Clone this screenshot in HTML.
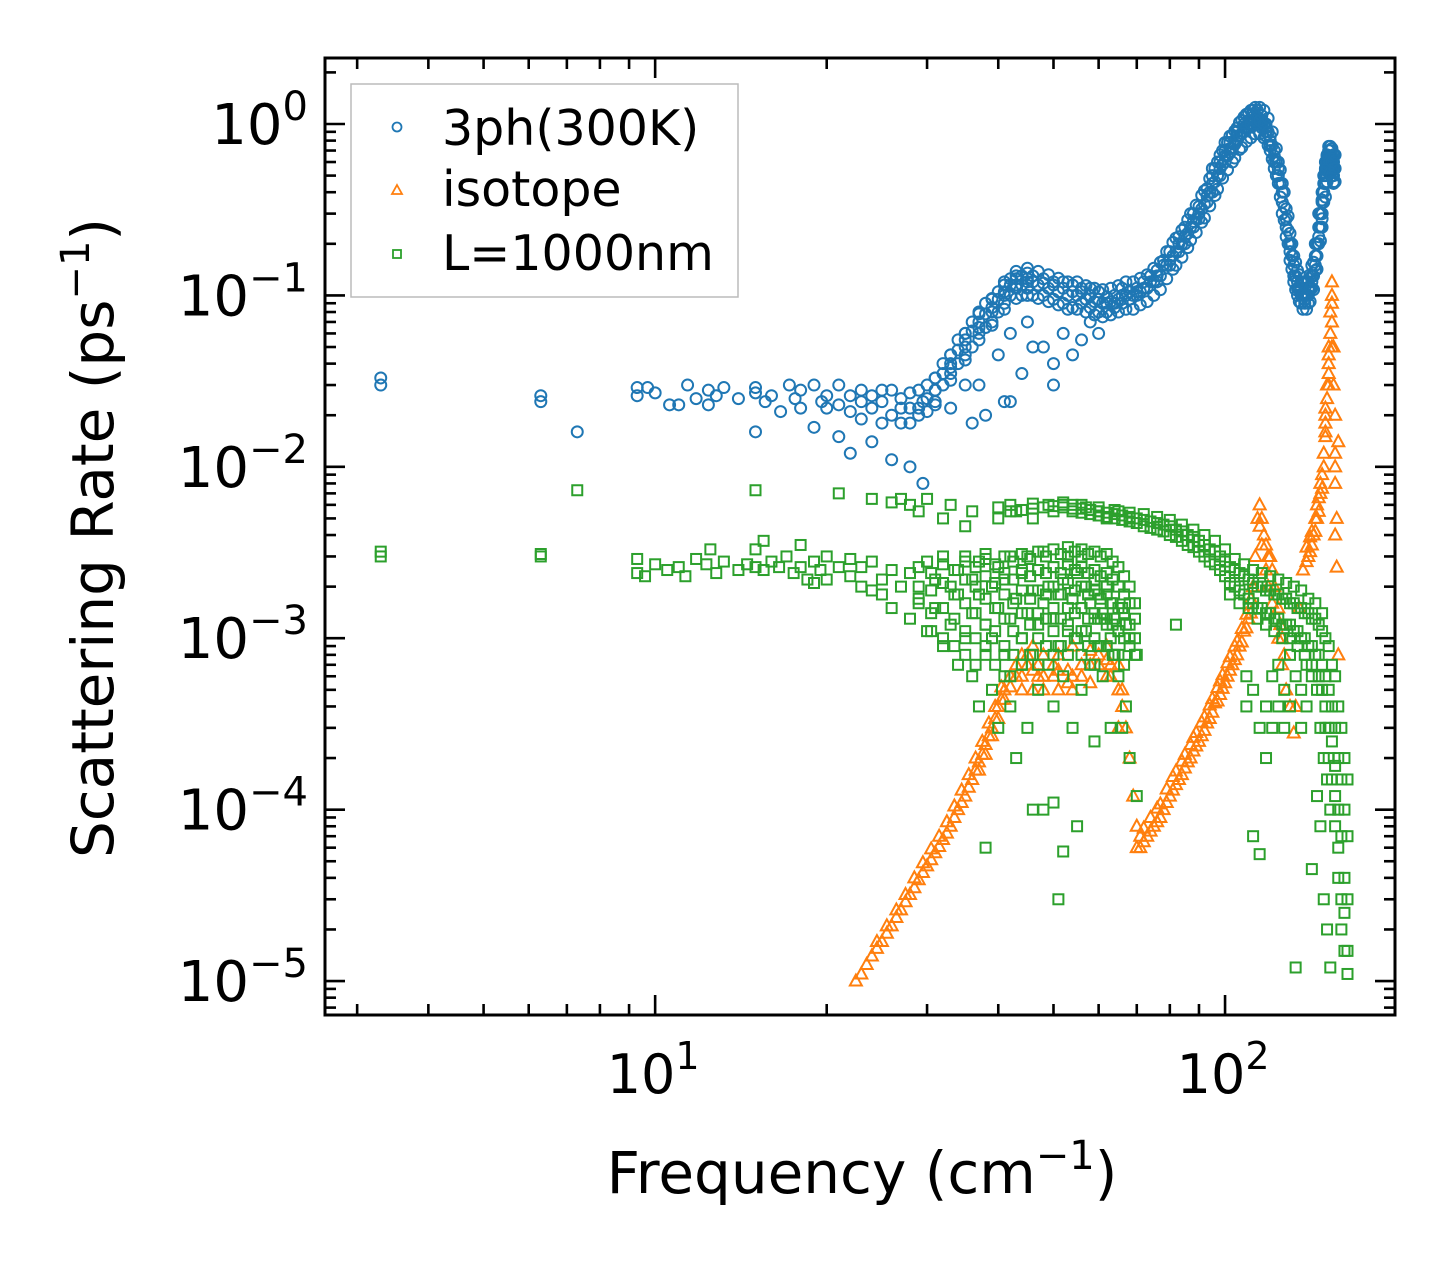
<!DOCTYPE html>
<html><head><meta charset="utf-8"><style>
html,body{margin:0;padding:0;background:#fff}
svg{display:block;font-family:"DejaVu Sans","Liberation Sans",sans-serif}
</style></head><body>
<svg id="chart" width="1455" height="1265" viewBox="0 0 1455 1265" xmlns="http://www.w3.org/2000/svg">
<rect x="0" y="0" width="1455" height="1265" fill="#fff"/>
<g id="marks"></g>
<g id="axes"></g>
<g id="legend">
<rect x="351" y="84" width="387" height="213" fill="#fff" stroke="#bbb" stroke-width="1.5"/>
<circle cx="397" cy="127" r="4.5" fill="none" stroke="#1f77b4" stroke-width="1.8"/>
<text x="442" y="145" font-size="49">3ph(300K)</text>
<path d="M397,185 L402,194 L392,194 Z" fill="none" stroke="#ff7f0e" stroke-width="1.8"/>
<text x="442" y="206" font-size="49">isotope</text>
<rect x="393" y="250" width="8" height="8" fill="none" stroke="#2ca02c" stroke-width="1.8"/>
<text x="442" y="270" font-size="49">L=1000nm</text>
</g>
<text x="862" y="1193" font-size="58" text-anchor="middle">Frequency (cm<tspan dy="-24" font-size="40">−1</tspan><tspan dy="24">)</tspan></text>
<text transform="translate(113,538) rotate(-90)" font-size="58" text-anchor="middle">Scattering Rate (ps<tspan dy="-24" font-size="40">−1</tspan><tspan dy="24">)</tspan></text>
</svg>
<script>
// ---- data ----
const blueFreq=[3.3,6.3,7.3,9.3,9.7,10,10.6,11,11.4,11.8,12.4,12.8,13.2,14,15,15.6,16,16.6,17.2,17.6,18,19,19.6,20,21,22,23,24,25,26,27,28,29,29.5,30,31,32,33,34,35,36,37,38,39,40,41,42,43,44,45,46,48,50,52,54,56,58,60,62,64,66,68,70,72,74,76,78,80,83,85,88,90,93,95,98,100,102,105,108,110,112,114,116,118,120,122,124,126,128,130,132,134,136,138,140,142,144,146,148,149,150,151,152,153,154,155];
const blueRate=[[.033,.030],[.026,.024],[.016],[.029,.026],[.029],[.027],[.023],[.023],[.03],[.025],[.028,.023],[.026],[.029],[.025],[.029,.027,.016],[.024],[.026],[.021],[.03],[.025],[.028,.022],[.017,.03],[.024],[.022,.026],[.03,.015,.023],[.026,.012,.021],[.019,.028,.024],[.022,.014,.026],[.024,.018,.028],[.011,.028,.02],[.018,.025,.022],[.01,.022,.027,.018],[.02,.028,.022],[.008,.024],[.03,.025,.021],[.028,.033,.024],[.035,.04,.03],[.04,.035,.022,.045],[.048,.04,.055],[.055,.03,.045,.06],[.062,.018,.05,.07],[.07,.03,.06,.08],[.078,.02,.065,.09],[.085,.07,.095],[.095,.045,.08,.105],[.105,.09,.115,.024],[.115,.06,.1,.125,.024],[.125,.11,.13],[.13,.035,.115,.1],[.125,.07,.11,.135],[.12,.1,.13,.05],[.118,.05,.1,.125],[.115,.04,.095,.12,.03],[.11,.06,.09,.12],[.105,.045,.085,.115],[.105,.055,.09,.11],[.1,.07,.085,.11],[.095,.06,.08,.105],[.098,.08,.09],[.1,.09,.085],[.1,.09,.11],[.105,.095],[.105,.11,.1],[.11,.12],[.12,.13],[.13,.14,.12],[.15,.16],[.16,.18,.15],[.2,.22,.18],[.22,.25,.2],[.27,.3,.25],[.3,.33,.28],[.38,.42,.35],[.45,.5,.4,.55],[.55,.6,.5,.66],[.65,.7,.6,.78],[.72,.78,.68,.85],[.85,.9,.8,.95],[.95,1.0,.9,1.1],[1.0,1.05,.95,1.15],[1.1,1.15,1.0,1.2],[1.1,1.05,1.0,1.2],[1.05,1.0,.95,1.12],[.95,.9,.85,1.0],[.85,.8,.7,.75],[.7,.65,.6,.55],[.55,.5,.45,.6],[.4,.35,.3,.45],[.28,.25,.22,.32],[.2,.18,.16,.23],[.15,.13,.12,.17],[.12,.11,.1,.14],[.11,.1,.09,.12],[.1,.095,.09,.11],[.1,.11,.09,.12],[.12,.13,.11,.15],[.15,.17,.14,.2],[.2,.25,.22,.3],[.3,.35,.28,.4],[.4,.45,.35,.5],[.5,.55,.45,.6],[.6,.65,.55,.5],[.65,.7,.6,.55],[.6,.65,.55,.7],[.55,.6,.5,.65],[.5,.55,.6,.45]];
const blueBandFreq=[31,33,35,37,39,41,43,45,47,49,51,53,55,57,59,61,63,65,67,69,71,73,75,77,79,81,82,84,86,87,89,91,92,94,96,97,99,101,103,104,106,107,109,111,113,115,117,119,121,123,125,127,129,131,133,135,137,139,141,143,145,147,148,150,151,152,153,154,155,156];
const blueBandRate=[[.023,.028,.033],[.032,.038,.045],[.042,.05,.06],[.055,.065,.078],[.067,.08,.096],[.083,.1,.12],[.096,.115,.138],[.1,.12,.144],[.096,.115,.138],[.092,.11,.132],[.088,.105,.126],[.083,.1,.12],[.083,.1,.12],[.08,.095,.114],[.077,.092,.11],[.075,.09,.108],[.077,.092,.11],[.08,.095,.114],[.083,.1,.12],[.083,.1,.12],[.088,.105,.126],[.092,.11,.132],[.1,.12,.144],[.108,.13,.156],[.125,.15,.18],[.142,.17,.204],[.15,.18,.216],[.167,.2,.24],[.19,.23,.276],[.21,.25,.3],[.233,.28,.336],[.267,.32,.384],[.283,.34,.408],[.333,.4,.48],[.383,.46,.55],[.417,.5,.6],[.483,.58,.7],[.54,.65,.78],[.6,.72,.86],[.633,.76,.91],[.71,.85,1.02],[.73,.88,1.05],[.79,.95,1.14],[.83,1.0,1.2],[.875,1.05,1.25],[.875,1.05,1.25],[.83,1.0,1.2],[.75,.9,1.08],[.625,.75,.9],[.5,.6,.72],[.375,.45,.54],[.275,.33,.4],[.2,.24,.29],[.142,.17,.2],[.108,.13,.156],[.092,.11,.132],[.083,.1,.12],[.083,.1,.12],[.092,.11,.132],[.108,.13,.156],[.142,.17,.2],[.208,.25,.3],[.25,.3,.36],[.375,.45,.54],[.46,.55,.66],[.52,.62,.74],[.52,.62,.74],[.5,.6,.72],[.46,.55,.66],[.46,.55,.66]];
const orangeFreq=[22.5,23,24,25,26,27,28,29,30,31,32,33,34,35,36,37,38,39,40,41,42,43,45,47,50,53,56,60,63,66,67,68,69,70,71,73,75,78,80,83,86,90,93,96,100,103,106,108,110,112,113,114,115,117,120,122,125,127,128,130,132,133,135,137,140,143,145,147,149,150,151,152,153,154,155,156,157,158];
const orangeRate=[[1.0e-5],[1.1e-5],[1.4e-5],[1.7e-5],[2.1e-5],[2.6e-5],[3.2e-5],[3.9e-5],[4.7e-5],[5.6e-5],[6.7e-5],[8e-5],[1.0e-4],[1.2e-4],[1.5e-4],[1.9e-4,1.7e-4],[2.4e-4,2.1e-4],[3.0e-4,2.7e-4],[4e-4,3.4e-4],[5e-4,4.4e-4],[6e-4,5.2e-4],[7e-4,6e-4],[7e-4,8e-4],[6e-4,7e-4],[6e-4,7e-4],[6.5e-4,5.5e-4],[7e-4,6e-4],[8e-4,7e-4],[7e-4,6e-4],[4e-4,5e-4],[3e-4],[2e-4],[1.2e-4],[8e-5,6e-5],[6e-5,7e-5],[7e-5],[8e-5],[1.0e-4],[1.2e-4],[1.5e-4],[1.9e-4],[2.5e-4],[3.2e-4],[4.2e-4],[5.5e-4],[7e-4],[9e-4],[1.1e-3],[1.3e-3],[2e-3],[3e-3],[5e-3],[6e-3,4.5e-3],[4e-3],[3e-3],[2e-3],[1.2e-3],[8e-4],[5e-4],[4e-4],[2.8e-4],[4e-4],[1.5e-3],[2.5e-3],[3e-3],[4e-3],[6e-3,5e-3],[8e-3,7e-3],[1.2e-2,1e-2],[2e-2,1.6e-2],[3e-2,2.5e-2],[5e-2,4e-2],[8e-2,6e-2],[0.1,0.12],[0.05,0.03],[0.01,0.02],[5e-3,2.6e-3],[8e-4,1.4e-2]];
const orangeBandFreq=[23.5,24.5,25.5,26.5,27.5,28.5,29.5,30.5,31.5,32.5,33.5,34.5,35.5,36.5,37.5,38.5,39.5,40.5,44,46,48,51,54,58,62,65,72,74,76,77,79,81,82,84,85,87,88,89,91,92,94,95,97,98,99,101,102,104,105,107,109,111,116,118,119,121,124,126,139,141,142,144,146,148,150,152,154,156];
const orangeBandRate=[[1.25e-5],[1.55e-5,1.7e-5],[1.9e-5,2.1e-5],[2.35e-5,2.6e-5],[2.9e-5,3.2e-5],[3.5e-5,4e-5],[4.3e-5,4.9e-5],[5.1e-5,5.9e-5],[6.1e-5,7e-5],[7.3e-5,8.5e-5],[9e-5,1.05e-4],[1.1e-4,1.3e-4],[1.35e-4,1.6e-4],[1.7e-4,2e-4],[2.1e-4,2.5e-4],[2.7e-4,3.2e-4],[3.4e-4,4e-4],[4.4e-4,5.2e-4],[6e-4,8e-4,5e-4],[6.5e-4,9e-4,5e-4],[6e-4,8e-4,5e-4],[6.5e-4,8e-4,5e-4],[6e-4,9e-4,5e-4],[7e-4,8.5e-4,5.5e-4],[7.5e-4,9e-4,6e-4],[5e-4,7e-4,3e-4],[6.5e-5,7.8e-5],[7.5e-5,9e-5],[8.5e-5,1.02e-4],[9e-5,1.08e-4],[1.1e-4,1.32e-4],[1.3e-4,1.56e-4],[1.4e-4,1.68e-4],[1.6e-4,1.92e-4],[1.75e-4,2.1e-4],[2.0e-4,2.4e-4],[2.2e-4,2.64e-4],[2.35e-4,2.82e-4],[2.7e-4,3.24e-4],[2.9e-4,3.48e-4],[3.4e-4,4.08e-4],[3.7e-4,4.44e-4],[4.3e-4,5.16e-4],[4.7e-4,5.64e-4],[5.1e-4,6.12e-4],[6e-4,7.2e-4],[6.5e-4,7.8e-4],[7.5e-4,9e-4],[8e-4,9.6e-4],[9.5e-4,1.14e-3],[1.15e-3,1.38e-3],[1.4e-3,1.7e-3],[5e-3,3.5e-3],[3.5e-3,2.5e-3],[3e-3,2e-3],[2.5e-3,1.6e-3],[1.5e-3,1e-3],[1e-3,7e-4],[2.8e-3,3.4e-3],[3.2e-3,3.9e-3],[3.5e-3,4.2e-3],[4.2e-3,5e-3],[5.5e-3,6.6e-3],[7.5e-3,9e-3],[1.5e-2,1.8e-2,2.2e-2],[3.5e-2,4.5e-2,3e-2],[9e-2,7e-2,5e-2],[1.2e-2,8e-3,4e-3]];
const greenFreq=[3.3,6.3,7.3,9.3,9.6,10,10.5,11,11.3,11.8,12.3,12.5,12.8,13.2,14,14.5,15,15.5,16,16.5,17,17.5,18,18.5,19,19.5,20,21,22,23,24,25,26,27,28,29,30,31,32,33,34,35,36,37,38,39,40,41,42,43,44,45,46,47,48,49,50,51,52,53,54,55,56,57,58,59,60,61,62,63,64,65,66,67,68,70,82,109,112,115,118,121,124,127,130,133,136,139,142,145,147,149,151,153];
const greenRate=[[3.2e-3,3.0e-3],[3.0e-3,3.1e-3],[7.3e-3],[2.4e-3,2.9e-3],[2.3e-3],[2.7e-3],[2.5e-3],[2.6e-3],[2.3e-3],[2.9e-3],[2.7e-3],[3.3e-3],[2.4e-3],[2.8e-3],[2.5e-3],[2.7e-3],[2.6e-3,7.3e-3,3.3e-3],[2.5e-3,3.7e-3],[2.8e-3],[2.6e-3],[3e-3],[2.4e-3],[2.6e-3,3.5e-3],[2.2e-3],[2.1e-3,2.8e-3],[2.5e-3],[3e-3,2.2e-3],[2.6e-3,7e-3],[2.3e-3,2.9e-3],[2e-3,2.6e-3],[1.9e-3,6.5e-3,2.8e-3],[2.2e-3,1.8e-3],[2.5e-3,6.2e-3,1.5e-3],[2e-3,6.5e-3],[1.3e-3,2.4e-3,6e-3],[1.7e-3,5.5e-3],[1.1e-3,2.8e-3,6.5e-3],[1.5e-3,2.2e-3],[9e-4,3e-3,5e-3],[1.2e-3,2e-3,6e-3],[7e-4,2.5e-3,1.8e-3],[1e-3,3e-3,4.5e-3],[6e-4,2.2e-3,1.4e-3,5.5e-3],[4e-4,1.8e-3,2.8e-3],[9e-4,3.1e-3,6e-5,1.2e-3],[5e-4,2e-3,1e-3],[3e-4,1.5e-3,2.6e-3,5e-3],[8e-4,2.2e-3],[6e-4,1.3e-3,3e-3,4e-4],[2e-4,1.7e-3,5.5e-3],[1e-3,2.4e-3,7e-4],[3e-4,1.4e-3,3e-3],[8e-4,1.9e-3,5e-3,1e-4],[5e-4,2.5e-3,1.2e-3],[1e-4,1.6e-3,3.2e-3],[7e-4,2e-3,6e-3],[1.1e-4,1.3e-3,2.6e-3,4e-4],[3e-5,9e-4,1.8e-3],[6e-4,2.2e-3,6e-3,5.7e-5],[1.2e-3,3e-3],[3e-4,1.7e-3,5.5e-3],[8e-5,1e-3,2.4e-3],[5e-4,1.5e-3,3e-3],[1.1e-3,2e-3,5.8e-3],[7e-4,1.6e-3],[2.5e-4,1.3e-3,2.2e-3],[9e-4,1.8e-3,5.5e-3],[6e-4,1.4e-3],[1.2e-3,2e-3,5e-3],[3e-4,1e-3,1.6e-3],[8e-4,1.3e-3],[6e-4,1.1e-3,5.5e-3],[3e-4,1.5e-3],[1.2e-3,4e-4],[2e-4,1e-3,5e-3],[1.2e-4,8e-4],[1.2e-3],[4e-4,6e-4],[7e-5,5e-4],[3e-4,5.5e-5],[2e-4,4e-4],[6e-4,3e-4],[4e-4,7e-4],[5e-4,3e-4],[8e-4,4e-4],[1.2e-5,6e-4],[5e-4,3e-4],[4e-4,7e-4],[4.5e-5,6e-4],[1.2e-4,5e-4],[8e-5,3e-4],[3e-5,2e-4],[2e-5,1.5e-4],[1.2e-5,1e-4]];
const greenBandFreq=[29,30.5,32,33.5,35,36.5,38,39.5,41,42.5,44,45.5,47,48.5,50,51.5,53,54.5,56,57.5,59,60.5,62,63.5,65,66.5,68,69.5];
const greenBandRate=[[2.6e-3,2e-3,1.6e-3],[2.4e-3,1.9e-3,1.4e-3,1.1e-3],[2.7e-3,2.1e-3,1.5e-3,1.0e-3],[2.5e-3,1.8e-3,1.3e-3,9e-4],[2.8e-3,2.2e-3,1.6e-3,1.1e-3,8e-4],[2.6e-3,2e-3,1.4e-3,1e-3,7e-4],[2.9e-3,2.3e-3,1.7e-3,1.2e-3,8e-4],[2.7e-3,2.1e-3,1.5e-3,1.1e-3,7e-4],[3e-3,2.4e-3,1.8e-3,1.3e-3,9e-4,6e-4],[2.8e-3,2.2e-3,1.6e-3,1.1e-3,8e-4],[3.1e-3,2.5e-3,1.9e-3,1.4e-3,1e-3,7e-4],[2.9e-3,2.3e-3,1.7e-3,1.2e-3,8e-4],[3.2e-3,2.5e-3,1.9e-3,1.4e-3,1e-3,7e-4],[3e-3,2.4e-3,1.8e-3,1.3e-3,9e-4],[3.3e-3,2.6e-3,2e-3,1.5e-3,1.1e-3,8e-4],[3.1e-3,2.4e-3,1.8e-3,1.3e-3,9e-4],[3.4e-3,2.7e-3,2.1e-3,1.5e-3,1.1e-3,8e-4],[3.2e-3,2.5e-3,1.9e-3,1.4e-3,1e-3],[3.3e-3,2.6e-3,2e-3,1.5e-3,1.1e-3,8e-4],[3.1e-3,2.4e-3,1.8e-3,1.3e-3,9e-4],[3.2e-3,2.5e-3,1.9e-3,1.4e-3,1e-3,7e-4],[3e-3,2.3e-3,1.7e-3,1.3e-3,9e-4],[3.1e-3,2.4e-3,1.8e-3,1.3e-3,9e-4],[2.8e-3,2.2e-3,1.6e-3,1.2e-3,8e-4],[2.6e-3,2e-3,1.5e-3,1.1e-3,8e-4],[2.3e-3,1.8e-3,1.4e-3,1e-3,7e-4],[2e-3,1.6e-3,1.2e-3,9e-4],[1.6e-3,1.3e-3,1e-3,8e-4]];
const greenArcFreq=[40,42,44,46,48,50,52,54,56,58,60,62,64,66,68,70,72,74,76,78,80,82,84,86,88,90,92,94,96,98,100,102,104,106,108,110,112,114,116,118,120,122,124,126,128,130,132,134,136,138,140,142,144,146,148,150,152,154,156,158,160,162,164];
const greenArcRate=[[5.8e-3],[5.5e-3,6e-3],[5.6e-3],[5.7e-3,6.1e-3],[5.8e-3],[5.9e-3,5.5e-3],[5.8e-3,6.2e-3],[5.7e-3,6e-3],[5.7e-3,5.4e-3,6e-3],[5.6e-3,5.3e-3],[5.5e-3,5.8e-3,5.2e-3],[5.4e-3,5.1e-3],[5.3e-3,5e-3,5.6e-3],[5.2e-3,4.9e-3],[5.1e-3,4.8e-3,5.4e-3],[5e-3,4.7e-3],[4.9e-3,4.5e-3,5.3e-3],[4.8e-3,4.4e-3],[4.7e-3,4.3e-3,5.1e-3],[4.6e-3,4.2e-3],[4.5e-3,4.0e-3,4.9e-3],[4.3e-3,3.9e-3],[4.2e-3,3.7e-3,4.6e-3],[4e-3,3.5e-3],[3.9e-3,3.4e-3,4.3e-3],[3.7e-3,3.2e-3],[3.5e-3,3e-3,4e-3],[3.3e-3,2.8e-3],[3.2e-3,2.7e-3,3.7e-3],[3e-3,2.5e-3],[2.8e-3,2.3e-3,3.3e-3],[2.6e-3,2.1e-3,1.8e-3],[2.5e-3,2e-3,2.9e-3],[2.4e-3,1.9e-3,1.6e-3],[2.3e-3,1.8e-3,2.7e-3],[2.2e-3,1.7e-3,1.5e-3],[2.1e-3,1.6e-3,2.5e-3],[2e-3,1.5e-3,1.3e-3],[2e-3,1.5e-3,2.4e-3],[1.9e-3,1.4e-3,1.2e-3],[1.9e-3,1.4e-3,2.3e-3],[1.8e-3,1.3e-3,1.1e-3],[1.8e-3,1.3e-3,2.2e-3],[1.7e-3,1.2e-3,1e-3],[1.7e-3,1.2e-3,2.1e-3],[1.6e-3,1.2e-3,1e-3],[1.6e-3,1.1e-3,2e-3],[1.5e-3,1.1e-3,9e-4],[1.5e-3,1.0e-3,1.9e-3],[1.4e-3,1e-3,8e-4],[1.4e-3,9e-4,1.7e-3],[1.3e-3,9e-4,7e-4],[1.3e-3,8e-4,1.6e-3],[1.2e-3,8e-4,6e-4],[1.1e-3,7e-4,1.4e-3,5e-4],[1e-3,6e-4,4e-4,3e-4],[9e-4,5e-4,3e-4,2e-4],[7e-4,4e-4,2.5e-4,1.5e-4],[6e-4,3e-4,1.8e-4,1.2e-4,8e-5],[4e-4,2e-4,1e-4,6e-5,4e-5],[3e-4,1.5e-4,7e-5,3e-5,2e-5],[2e-4,1e-4,4e-5,2.5e-5,1.5e-5],[1.5e-4,7e-5,3e-5,1.5e-5,1.1e-5]];
const xTickVals=[10,100];
const xTickLabels=["1","2"];
const yTickVals=[1,0.1,0.01,0.001,0.0001,0.00001];
const yTickLabels=["0","−1","−2","−3","−4","−5"];

// ---- axes ----
const L=325,R=1395,T=58,B=1015;
const xLogMin=0.4207,xLogMax=2.2982,yLogMax=0.385,yLogMin=-5.198;
function xs(v){return L+(Math.log10(v)-xLogMin)/(xLogMax-xLogMin)*(R-L);}
function ys(v){return T+(yLogMax-Math.log10(v))/(yLogMax-yLogMin)*(B-T);}
const NS="http://www.w3.org/2000/svg";
function mk(tag,attrs,parent){const e=document.createElementNS(NS,tag);for(const k in attrs)e.setAttribute(k,attrs[k]);parent.appendChild(e);return e;}
const marks=document.getElementById('marks');
const axes=document.getElementById('axes');

function drawSeries(fr,rt,kind,color,name){
  const g=mk('g',{},marks);
  
  
  fr.forEach((f,i)=>{rt[i].forEach(r=>{
    const x=xs(f),y=ys(r);let e;
    if(kind==='o') e=mk('circle',{cx:x,cy:y,r:5.5,fill:'none',stroke:color,'stroke-width':2},g);
    else if(kind==='^') e=mk('path',{d:`M${x},${y-6.5} L${x+6},${y+4.5} L${x-6},${y+4.5} Z`,fill:'none',stroke:color,'stroke-width':2},g);
    else e=mk('rect',{x:x-5,y:y-5,width:10,height:10,fill:'none',stroke:color,'stroke-width':2},g);
    
    
  });});
}
drawSeries(blueFreq,blueRate,'o','#1f77b4','series-3ph');
drawSeries(blueBandFreq,blueBandRate,'o','#1f77b4','series-3ph-band');
drawSeries(orangeFreq,orangeRate,'^','#ff7f0e','series-isotope');
drawSeries(orangeBandFreq,orangeBandRate,'^','#ff7f0e','series-isotope-band');
drawSeries(greenFreq,greenRate,'s','#2ca02c','series-L1000nm');
drawSeries(greenBandFreq,greenBandRate,'s','#2ca02c','series-L1000nm-band');
drawSeries(greenArcFreq,greenArcRate,'s','#2ca02c','series-L1000nm-arc');

// frame
const fr=mk('rect',{x:L,y:T,width:R-L,height:B-T,fill:'none',stroke:'#000','stroke-width':3},axes);


function tick(x1,y1,x2,y2){const t=mk('line',{x1,y1,x2,y2,stroke:'#000','stroke-width':2.6},axes);

}
for(let d=0;d<=2;d++){for(let m=1;m<=9;m++){const v=m*Math.pow(10,d);const x=xs(v);if(x<L+1||x>R-1)continue;
  const len=m===1?20:11;tick(x,B,x,B-len);tick(x,T,x,T+len);}}
for(let d=-6;d<=0;d++){for(let m=1;m<=9;m++){const v=m*Math.pow(10,d);const y=ys(v);if(y<T+1||y>B-1)continue;
  const len=m===1?20:11;tick(L,y,L+len,y);tick(R,y,R-len,y);}}
xTickVals.forEach((v,i)=>{const t=mk('text',{x:xs(v)-2,y:1093,'font-size':54,'text-anchor':'middle'},axes);
  
  
  t.innerHTML='10<tspan dy="-24" font-size="38">'+xTickLabels[i]+'</tspan>';});
yTickVals.forEach((v,i)=>{const t=mk('text',{x:308,y:ys(v)+20,'font-size':56,'text-anchor':'end'},axes);
  
  
  t.innerHTML='10<tspan dy="-24" font-size="40">'+yTickLabels[i]+'</tspan>';});
</script>
</body></html>
